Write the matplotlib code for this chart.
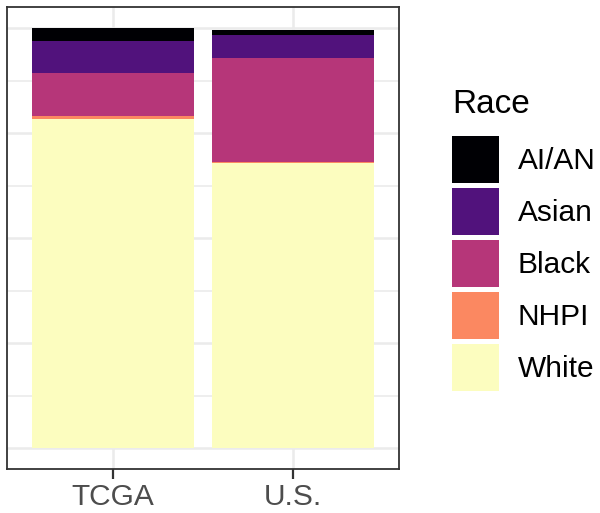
import numpy as np
import matplotlib
matplotlib.use('Agg')
from matplotlib import pyplot as plt
from matplotlib.patches import Patch

plt.rcParams['font.family'] = ['Liberation Sans', 'DejaVu Sans']

groups = ['TCGA', 'U.S.']
races = ['AI/AN', 'Asian', 'Black', 'NHPI', 'White']
colors = ['#000004', '#51127C', '#B63679', '#FB8861', '#FCFDBF']

# shares per race, in the order of groups
ai_an = [0.031, 0.013]
asian = [0.075, 0.055]
black = [0.102, 0.247]
nhpi = [0.008, 0.002]
white = [0.783, 0.679]

series = [ai_an, asian, black, nhpi, white]

fig = plt.figure(figsize=(6, 5.13), dpi=100)
ax = fig.add_axes([7/600, 1-469/513, 392/600, 462/513])

x = np.arange(len(groups))
bottom = np.zeros(len(groups))
# stack from the bottom: White first, AI/AN on top
for name, vals, col in reversed(list(zip(races, series, colors))):
    ax.bar(x, vals, width=0.9, bottom=bottom, color=col, linewidth=0, label=name, zorder=2)
    bottom += np.array(vals)

ax.set_xlim(-0.59, 1.59)
ax.set_ylim(-0.05, 1.05)
ax.set_xticks(x)
ax.set_xticklabels(groups, fontsize=21.5, color='#4D4D4D')
ax.set_yticks(np.arange(0, 1.01, 0.25))
ax.set_yticks(np.arange(0.125, 1, 0.25), minor=True)
ax.tick_params(axis='y', which='both', length=0, labelleft=False)
ax.tick_params(axis='x', length=7, width=1.6, color='#333333', pad=3)
ax.grid(True, which='major', color='#EBEBEB', linewidth=1.8, zorder=0)
ax.grid(True, which='minor', axis='y', color='#EBEBEB', linewidth=1.2, zorder=0)
ax.set_axisbelow(True)
for s in ax.spines.values():
    s.set_color('#333333')
    s.set_linewidth(1.3)

# legend title drawn on its own so its gap to the keys can be set
fig.text(452/600, 1-113/513, 'Race', fontsize=24, ha='left', va='baseline')
handles = [Patch(facecolor=c, edgecolor='none', label=r) for r, c in zip(races, colors)]
fig.legend(handles=handles, loc='upper left',
           bbox_to_anchor=(452/600, 1-136/513), frameon=False,
           fontsize=21.5, handlelength=1.57, handleheight=2.04,
           labelspacing=0.167, handletextpad=0.64, borderpad=0, borderaxespad=0)

fig.savefig('out.png', dpi=100)
